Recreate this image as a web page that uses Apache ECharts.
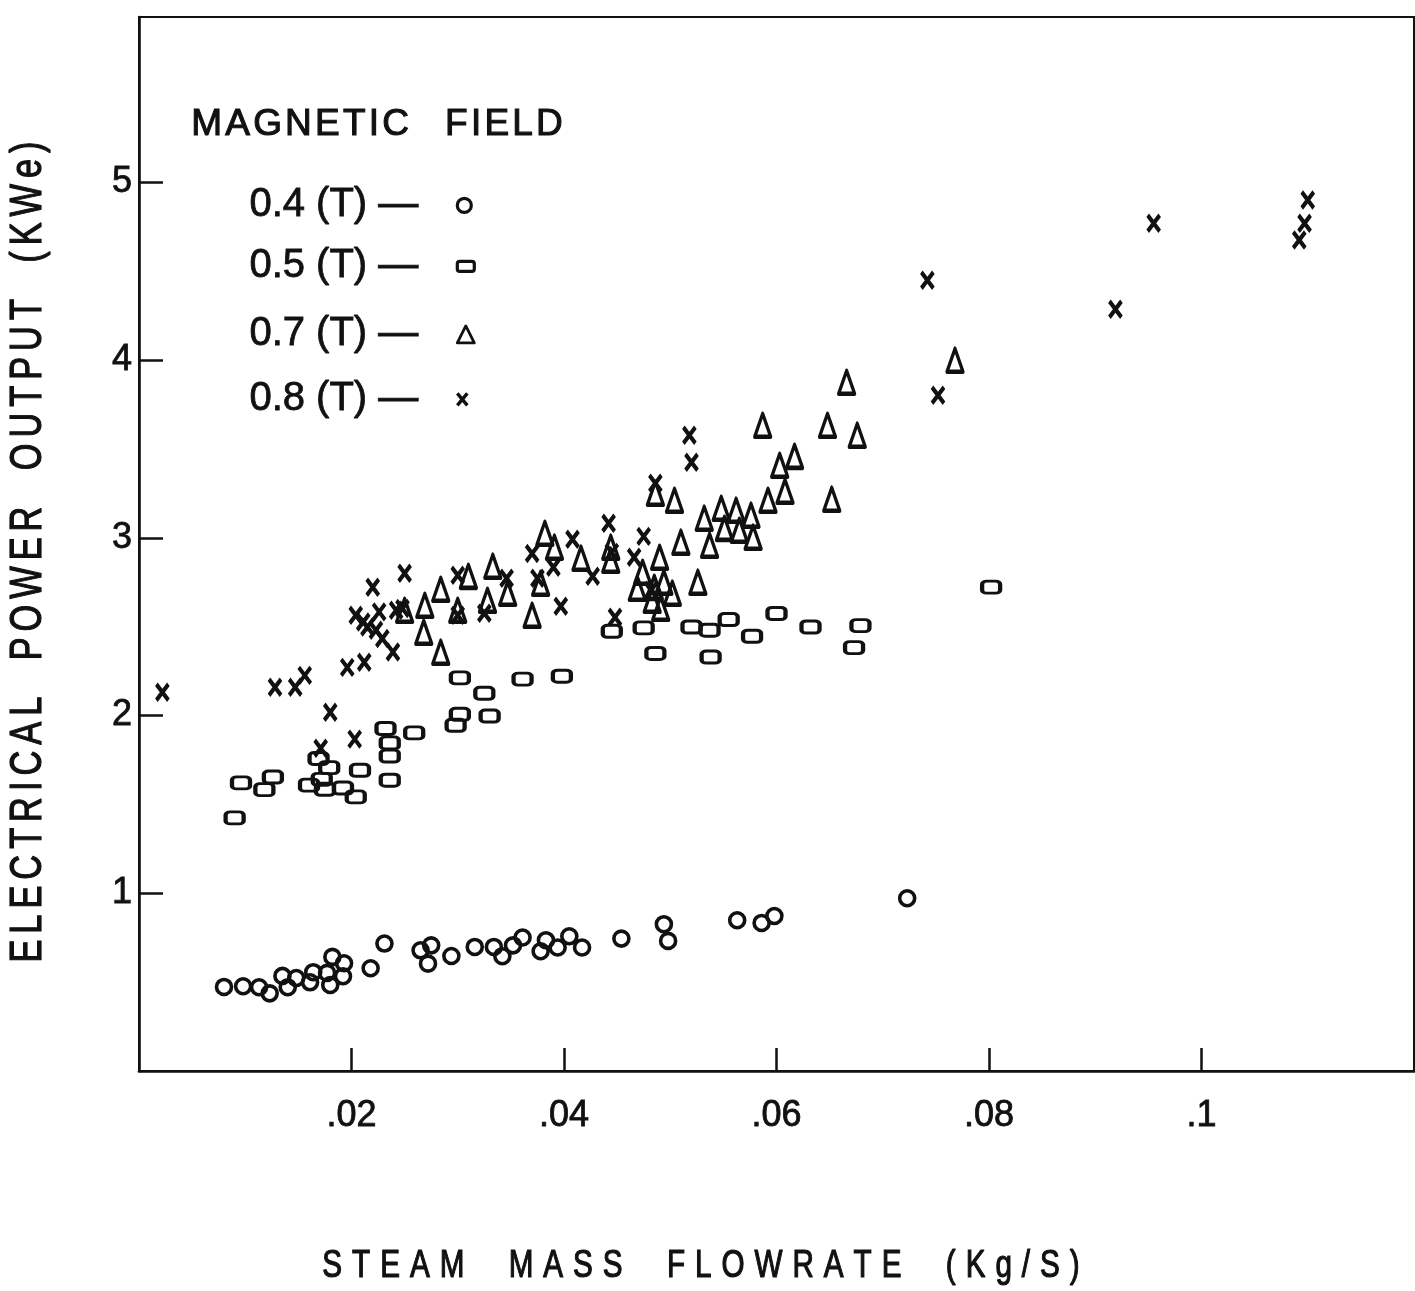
<!DOCTYPE html>
<html>
<head>
<meta charset="utf-8">
<title>MHD generator output vs steam flowrate</title>
<script src="https://cdn.jsdelivr.net/npm/echarts@6/dist/echarts.min.js"></script>
<style>
  html, body { margin: 0; padding: 0; background: #ffffff; }
  #chart { width: 1415px; height: 1291px; }
</style>
</head>
<body>
<div id="chart"></div>
<script>
// ---- data: [steam mass flowrate (kg/s), electrical power output (kWe)] ----
const fieldNames = ['0.4 (T) —', '0.5 (T) —', '0.7 (T) —', '0.8 (T) —'];

const field04 = [
  [0.0080,0.473],[0.0098,0.477],[0.0113,0.471],[0.0123,0.437],[0.0135,0.535],
  [0.0140,0.471],[0.0148,0.523],[0.0161,0.499],[0.0164,0.556],[0.0177,0.552],
  [0.0182,0.642],[0.0180,0.484],[0.0193,0.606],[0.0192,0.533],[0.0218,0.578],
  [0.0231,0.717],[0.0265,0.679],[0.0275,0.707],[0.0272,0.604],[0.0294,0.647],
  [0.0316,0.698],[0.0334,0.698],[0.0342,0.646],[0.0352,0.707],[0.0361,0.751],
  [0.0378,0.674],[0.0383,0.736],[0.0394,0.695],[0.0405,0.758],[0.0417,0.695],
  [0.0454,0.745],[0.0494,0.826],[0.0498,0.732],[0.0563,0.848],[0.0586,0.833],
  [0.0598,0.872],[0.0723,0.972]
];

const field05 = [
  [0.0090,1.424],[0.0096,1.621],[0.0118,1.583],[0.0126,1.654],[0.0160,1.608],
  [0.0169,1.758],[0.0179,1.707],[0.0172,1.641],[0.0175,1.585],[0.0192,1.592],
  [0.0204,1.542],[0.0208,1.692],[0.0232,1.927],[0.0236,1.846],[0.0236,1.772],
  [0.0236,1.636],[0.0259,1.902],[0.0298,1.945],[0.0302,2.007],[0.0302,2.212],
  [0.0325,2.125],[0.0330,1.997],[0.0361,2.205],[0.0398,2.221],[0.0445,2.474],
  [0.0475,2.493],[0.0486,2.349],[0.0520,2.498],[0.0537,2.480],[0.0538,2.329],
  [0.0555,2.540],[0.0577,2.446],[0.0600,2.574],[0.0632,2.498],[0.0679,2.506],
  [0.0673,2.382],[0.0802,2.722]
];

const field07 = [
  [0.0250,2.592],[0.0269,2.620],[0.0268,2.468],[0.0284,2.710],[0.0284,2.356],
  [0.0300,2.592],[0.0310,2.783],[0.0328,2.648],[0.0333,2.840],[0.0347,2.688],
  [0.0370,2.564],[0.0378,2.744],[0.0382,3.025],[0.0391,2.947],[0.0416,2.885],
  [0.0444,2.947],[0.0444,2.874],[0.0469,2.716],[0.0474,2.806],[0.0483,2.648],
  [0.0485,2.721],[0.0490,2.890],[0.0491,2.603],[0.0494,2.750],[0.0502,2.688],
  [0.0486,3.250],[0.0504,3.211],[0.0510,2.975],[0.0526,2.750],[0.0532,3.110],
  [0.0537,2.958],[0.0548,3.166],[0.0551,3.053],[0.0562,3.155],[0.0565,3.042],
  [0.0576,3.127],[0.0578,3.003],[0.0592,3.211],[0.0603,3.408],[0.0608,3.262],
  [0.0617,3.458],[0.0587,3.633],[0.0648,3.633],[0.0652,3.217],[0.0676,3.577],
  [0.0666,3.875],[0.0768,3.999]
];

const field08 = [
  [0.0022,2.131],[0.0128,2.159],[0.0147,2.159],[0.0156,2.226],[0.0180,2.018],
  [0.0171,1.816],[0.0203,1.867],[0.0196,2.271],[0.0212,2.300],[0.0220,2.722],
  [0.0250,2.800],[0.0204,2.564],[0.0211,2.526],[0.0215,2.498],[0.0223,2.480],
  [0.0229,2.433],[0.0239,2.357],[0.0226,2.583],[0.0242,2.592],[0.0248,2.602],
  [0.0300,2.789],[0.0300,2.564],[0.0325,2.575],[0.0346,2.772],[0.0370,2.912],
  [0.0375,2.772],[0.0390,2.834],[0.0397,2.615],[0.0408,2.992],[0.0427,2.784],
  [0.0442,3.082],[0.0445,2.918],[0.0448,2.553],[0.0475,3.008],[0.0466,2.890],
  [0.0482,2.705],[0.0486,3.307],[0.0518,3.577],[0.0520,3.425],[0.0742,4.449],
  [0.0752,3.802],[0.0919,4.286],[0.0955,4.770],[0.1100,4.900],[0.1097,4.770],
  [0.1092,4.675]
];

const xTickValues = [0.02, 0.04, 0.06, 0.08, 0.1];
const xTickLabels = ['.02', '.04', '.06', '.08', '.1'];
const yTickValues = [1, 2, 3, 4, 5];
const yTickLabels = ['1', '2', '3', '4', '5'];

const xTitle = 'STEAM MASS FLOWRATE (Kg/S)';
const yTitle = 'ELECTRICAL POWER OUTPUT (KWe)';
const keyTitle = 'MAGNETIC FIELD';

// ---- styling ----
const ink = '#111111';
const face = 'Liberation Sans';

function tickText(values, labels) {
  return function (v) {
    for (let i = 0; i < values.length; i++) {
      if (Math.abs(values[i] - v) < 1e-9) return labels[i];
    }
    return '';
  };
}

// Lettering with extra tracking: every glyph is its own rich token with side padding.
function tracked(str) {
  return str.split('').map(function (ch) {
    return ch === ' ' ? '{w| }' : '{c|' + ch + '}';
  }).join('');
}
function trackedRich(size, pad, wordWidth, weightPx) {
  return {
    c: { fontSize: size, fontFamily: face, fill: ink, stroke: ink, lineWidth: weightPx, padding: [0, pad, 0, pad] },
    w: { fontSize: size, fontFamily: face, fill: ink, width: wordWidth }
  };
}

const seriesStyles = [
  { symbol: 'circle', symbolSize: 15, itemStyle: { color: 'transparent', borderColor: ink, borderWidth: 3.6, opacity: 1 } },
  { symbol: 'roundRect', symbolSize: [18, 12], itemStyle: { color: 'transparent', borderColor: ink, borderWidth: 3.5, opacity: 1 } },
  { symbol: 'triangle', symbolSize: [16, 23], itemStyle: { color: 'transparent', borderColor: ink, borderWidth: 3.8, borderJoin: 'round', opacity: 1 } },
  { symbol: 'path://M0,0L10,13M10,0L0,13', symbolSize: [12, 16], itemStyle: { color: ink, borderColor: ink, borderWidth: 4.2, opacity: 1 } }
];
const seriesData = [field04, field05, field07, field08];

// key rows: icon box sizes and vertical positions
const keyIcons = [[14, 14], [17, 10], [17, 17], [10, 12]];
const keyTops = [185, 246, 314, 379];
const keyBorders = [3.2, 3.2, 2.8, 3.4];

const chart = echarts.init(document.getElementById('chart'), null, { renderer: 'canvas' });

const option = {
  backgroundColor: '#ffffff',
  animation: false,
  grid: {
    left: 139, right: 1, top: 17, bottom: 220,
    show: true, borderColor: ink, borderWidth: 2,
    containLabel: false, outerBoundsMode: 'none'
  },
  xAxis: {
    type: 'value', min: 0, max: 0.12, interval: 0.02,
    axisLine: { show: true, onZero: false, lineStyle: { color: ink, width: 2.6 } },
    axisTick: { show: true, inside: true, length: 23, customValues: xTickValues, lineStyle: { color: ink, width: 2.5 } },
    axisLabel: {
      customValues: xTickValues, formatter: tickText(xTickValues, xTickLabels),
      margin: 27, fontSize: 36, fontFamily: face, color: ink,
      textBorderColor: ink, textBorderWidth: 0.8
    },
    splitLine: { show: false }
  },
  yAxis: {
    type: 'value', min: 0, max: 5.93, interval: 1,
    axisLine: { show: true, onZero: false, lineStyle: { color: ink, width: 2.6 } },
    axisTick: { show: true, inside: true, length: 24, customValues: yTickValues, lineStyle: { color: ink, width: 2.5 } },
    axisLabel: {
      customValues: yTickValues, formatter: tickText(yTickValues, yTickLabels),
      margin: 7, fontSize: 36, fontFamily: face, color: ink,
      textBorderColor: ink, textBorderWidth: 0.8
    },
    splitLine: { show: false }
  },
  legend: fieldNames.map(function (name, i) {
    return {
      data: [name],
      orient: 'horizontal',
      left: 249, top: keyTops[i], padding: 0,
      align: 'right',
      selectedMode: false,
      symbolKeepAspect: false,
      itemWidth: keyIcons[i][0], itemHeight: keyIcons[i][1],
      itemStyle: { borderWidth: keyBorders[i], opacity: 1 },
      textStyle: {
        color: ink, fontFamily: face, fontSize: 40, lineHeight: 40, padding: [0, 34, 0, 0],
        textBorderColor: ink, textBorderWidth: 0.8
      }
    };
  }),
  graphic: [
    {
      type: 'text', x: 377, y: 125, silent: true,
      style: {
        text: tracked(keyTitle), rich: trackedRich(37, 1.6, 33, 1.1),
        align: 'center', verticalAlign: 'middle', fill: ink, fontSize: 37, fontFamily: face
      }
    },
    {
      type: 'text', x: 701, y: 1267, scaleX: 0.78, silent: true,
      style: {
        text: tracked(xTitle), rich: trackedRich(38, 6.4, 44, 1.2),
        align: 'center', verticalAlign: 'middle', fill: ink, fontSize: 38, fontFamily: face
      }
    },
    {
      type: 'text', x: 29, y: 552, rotation: Math.PI / 2, scaleX: 0.78, silent: true,
      style: {
        text: tracked(yTitle), rich: trackedRich(44, 3.85, 39, 1.2),
        align: 'center', verticalAlign: 'middle', fill: ink, fontSize: 44, fontFamily: face
      }
    }
  ],
  series: fieldNames.map(function (name, i) {
    return Object.assign({
      name: name,
      type: 'scatter',
      data: seriesData[i],
      silent: true,
      emphasis: { disabled: true }
    }, seriesStyles[i]);
  })
};

chart.setOption(option);
</script>
</body>
</html>
